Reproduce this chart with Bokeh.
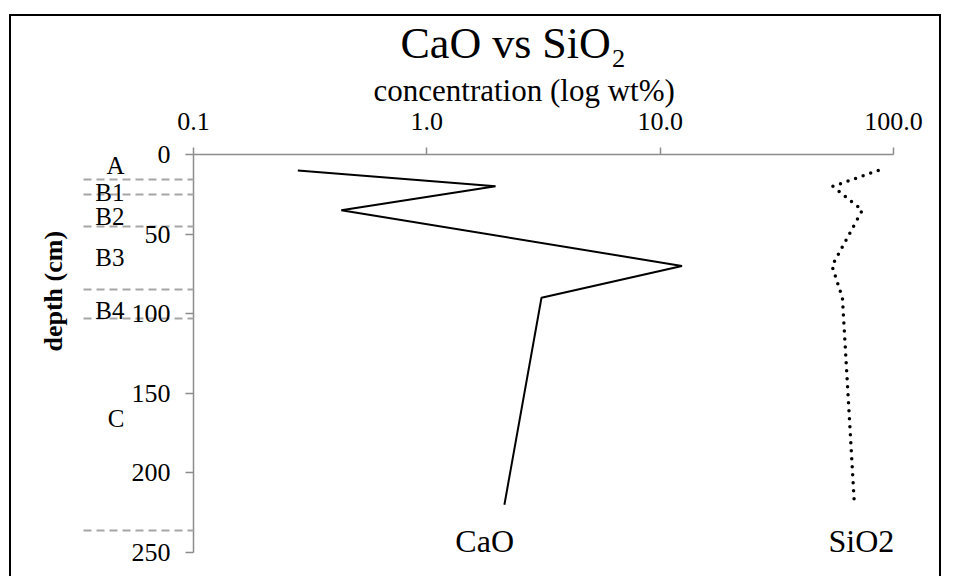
from bokeh.plotting import figure
from bokeh.models import (Range1d, FixedTicker, LinearAxis, CustomJSTickFormatter,
                          LabelSet, ColumnDataSource, Title)
from bokeh.core.properties import value
from bokeh.embed import file_html
from bokeh.resources import INLINE

# ---- data ----
depth_cm = [10, 20, 35, 70, 90, 220]
cao_wt = [0.28, 1.97, 0.43, 12.4, 3.1, 2.15]
sio2_wt = [86, 55, 73.5, 54.5, 60.4, 68]

x_ticks = [0.1, 1, 10, 100]
y_ticks = [0, 50, 100, 150, 200, 250]

horizon_names = ["A", "B1", "B2", "B3", "B4", "C"]
horizon_label_depths = [7, 24, 39, 65, 98, 166]
horizon_bounds = [16, 25, 45, 85, 103, 236]

series_names = ["CaO", "SiO2"]
series_label_x = [1.77, 72.9]
series_label_depth = [249.5, 249.5]

FONT = "Liberation Serif"
GRAY = "#8c8c8c"
DASH_GRAY = "#a6a6a6"

p = figure(width=932, height=562, x_axis_type="log", x_axis_location="above",
           x_range=Range1d(0.1, 100), y_range=Range1d(250, 0),
           output_backend="svg", toolbar_location=None,
           min_border_left=181, min_border_right=50, min_border_top=137,
           min_border_bottom=26)
p.margin = (14, 0, 0, 9)
p.styles = {"border-left": "2px solid black", "border-top": "2px solid black",
            "border-right": "2px solid black"}

p.background_fill_color = "white"
p.border_fill_color = "white"
p.outline_line_color = None
p.xgrid.visible = False
p.ygrid.visible = False

# x axis (top, log)
xa = p.xaxis[0]
xa.ticker = FixedTicker(ticks=x_ticks)
xa.formatter = CustomJSTickFormatter(code="return tick.toFixed(1);")
xa.major_label_text_font = FONT
xa.major_label_text_font_size = "26px"
xa.major_label_text_color = "black"
xa.major_label_standoff = 18
xa.axis_line_color = GRAY
xa.axis_line_width = 1.5
xa.major_tick_line_color = GRAY
xa.major_tick_line_width = 1.5
xa.major_tick_out = 7
xa.major_tick_in = 0
xa.minor_tick_line_color = None

# x axis title (as a title so it can be shifted like in the reference)
p.add_layout(Title(text="concentration (log wt%)", align="left", offset=180,
                   text_font=FONT, text_font_size="31px", text_font_style="normal",
                   text_color="black", standoff=4), "above")

# chart title
p.title.text = "CaO vs SiO\u2082"
p.title.text_font = FONT
p.title.text_font_size = "44px"
p.title.text_font_style = "normal"
p.title.text_color = "black"
p.title.align = "left"
p.title.offset = 207
p.title.standoff = 1

# y axis (depth) with horizon boundaries drawn as long dashed minor ticks
ya = p.yaxis[0]
ya.ticker = FixedTicker(ticks=y_ticks, minor_ticks=horizon_bounds)
ya.major_label_text_font = FONT
ya.major_label_text_font_size = "26px"
ya.major_label_text_color = "black"
ya.major_label_standoff = -87
ya.axis_line_color = GRAY
ya.axis_line_width = 1.5
ya.major_tick_line_color = GRAY
ya.major_tick_line_width = 1.5
ya.major_tick_out = 8
ya.major_tick_in = 0
ya.minor_tick_line_color = DASH_GRAY
ya.minor_tick_line_width = 2
ya.minor_tick_line_dash = "8 5"
ya.minor_tick_out = 110
ya.minor_tick_in = 0

# horizon names axis
ha = LinearAxis(
    ticker=FixedTicker(ticks=horizon_label_depths),
    formatter=CustomJSTickFormatter(
        args=dict(d=horizon_label_depths, n=horizon_names),
        code="const i = d.indexOf(tick); return i >= 0 ? n[i] : '';"),
    axis_line_color=None, major_tick_line_color=None, minor_tick_line_color=None,
    major_tick_out=0, major_tick_in=0,
    major_label_text_font=FONT, major_label_text_font_size="25px",
    major_label_text_color="black", major_label_text_align="right",
    major_label_standoff=4)
p.add_layout(ha, "left")

# depth axis title (shifted upward like in the reference)
p.add_layout(Title(text="depth (cm)", align="left", offset=201,
                   text_font=FONT, text_font_size="26px", text_font_style="bold",
                   text_color="black", standoff=50), "left")

# series
p.line(cao_wt, depth_cm, line_color="black", line_width=2)
p.line(sio2_wt, depth_cm, line_color="black", line_width=3.5, line_dash="0 8",
       line_cap="round")

src = ColumnDataSource(dict(x=series_label_x, y=series_label_depth, t=series_names))
p.add_layout(LabelSet(x="x", y="y", text="t", source=src, text_font=value(FONT),
                      text_font_size="32px", text_align="center",
                      text_baseline="alphabetic", text_color="black"))

open("out.html", "w").write(file_html(p, INLINE))
